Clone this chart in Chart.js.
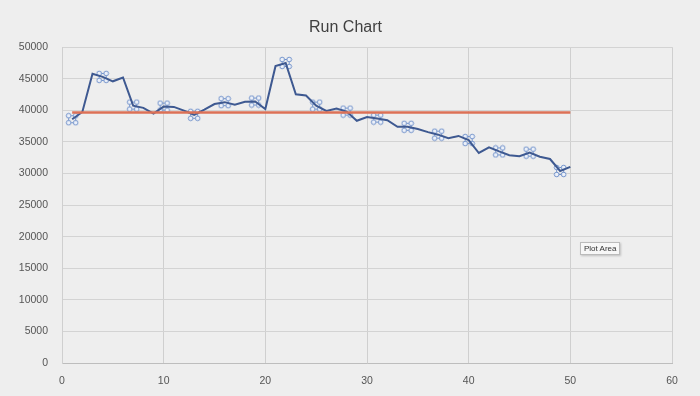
<!DOCTYPE html>
<html>
<head>
<meta charset="utf-8">
<script src="https://cdn.jsdelivr.net/npm/chart.js@4"></script>
<style>
  html, body { margin: 0; padding: 0; background: #eeeeee; }
  #wrap { position: relative; width: 700px; height: 396px; }
  #plotTag {
    position: absolute; left: 580px; top: 242px;
    font: 8px "Liberation Sans", Arial, sans-serif; color: #333;
    background: #f7f7f7; border: 1px solid #bbb; padding: 1px 3px;
    box-shadow: 1px 1px 2px rgba(0,0,0,0.2);
  }
</style>
</head>
<body>
<div id="wrap">
  <canvas id="myChart" width="700" height="396"></canvas>
  <div id="plotTag">Plot Area</div>
</div>
<script>
// run number (x) and measured value (y)
var runs = [1, 2, 3, 4, 5, 6, 7, 8, 9, 10,
  11, 12, 13, 14, 15, 16, 17, 18, 19, 20,
  21, 22, 23, 24, 25, 26, 27, 28, 29, 30,
  31, 32, 33, 34, 35, 36, 37, 38, 39, 40,
  41, 42, 43, 44, 45, 46, 47, 48, 49, 50];
var values = [38600, 39750, 45800, 45300, 44600, 45200, 40750, 40400, 39500, 40600,
  40550, 39950, 39300, 40100, 41000, 41300, 40900, 41350, 41400, 40200,
  47000, 47500, 42550, 42350, 40750, 39900, 40300, 39800, 38350, 38950,
  38700, 38450, 37400, 37400, 37050, 36550, 36150, 35600, 35950, 35300,
  33250, 34150, 33500, 32900, 32750, 33300, 32650, 32300, 30400, 31050];
var median = 39650;
var xTicks = [0, 10, 20, 30, 40, 50, 60];
var yTicks = [0, 5000, 10000, 15000, 20000, 25000, 30000, 35000, 40000, 45000, 50000];

var barChart = document.getElementById("myChart").getContext("2d");

// little "selected label" handle marker like the screenshot
function makeHandle() {
  var c = document.createElement("canvas");
  c.width = 14; c.height = 14;
  var g = c.getContext("2d");
  g.strokeStyle = "#6d8fc9";
  g.lineWidth = 1;
  g.strokeRect(3.5, 3.5, 7, 7);
  [[3.5, 3.5], [10.5, 3.5], [3.5, 10.5], [10.5, 10.5]].forEach(function(p) {
    g.beginPath();
    g.arc(p[0], p[1], 2.3, 0, Math.PI * 2);
    g.fillStyle = "#eef2fa";
    g.fill();
    g.stroke();
  });
  return c;
}
var handle = makeHandle();

var lineData = runs.map(function(r, i) { return { x: r, y: values[i] }; });
var markData = lineData.filter(function(p, i) { return i % 3 === 0; });
var medData = [{ x: runs[0], y: median }, { x: runs[runs.length - 1], y: median }];

var tickFont = { family: "'Liberation Sans', Arial, sans-serif", size: 10.5 };

var chart = new Chart(barChart, {
  type: "scatter",
  data: {
    datasets: [
      {
        label: "Median",
        data: medData,
        showLine: true,
        borderColor: "#dc7156",
        borderWidth: 2.5,
        pointRadius: 0
      },
      {
        label: "Value",
        data: lineData,
        showLine: true,
        borderColor: "#3e5991",
        borderWidth: 2,
        pointRadius: 0,
        tension: 0
      },
      {
        label: "Labels",
        data: markData,
        showLine: false,
        pointStyle: handle,
        pointRadius: 7
      }
    ]
  },
  options: {
    responsive: false,
    animation: false,
    layout: { padding: { left: 19, right: 28, top: 0, bottom: 0 } },
    plugins: {
      legend: { display: false },
      tooltip: { enabled: false },
      title: {
        display: true,
        text: "Run Chart",
        color: "#404040",
        font: { family: "'Liberation Sans', Arial, sans-serif", size: 16, weight: "normal" },
        padding: { top: 18, bottom: 10 }
      }
    },
    scales: {
      x: {
        type: "linear",
        min: 0,
        max: 60,
        afterBuildTicks: function(ax) { ax.ticks = xTicks.map(function(v) { return { value: v }; }); },
        afterFit: function(ax) { ax.height = 33; },
        grid: { color: "#cfcfcf", drawTicks: false },
        border: { color: "#bdbdbd" },
        ticks: { color: "#555", padding: 12, font: tickFont, callback: function(v) { return String(v); } }
      },
      y: {
        min: 0,
        max: 50000,
        afterBuildTicks: function(ax) { ax.ticks = yTicks.map(function(v) { return { value: v }; }); },
        afterFit: function(ax) { ax.width = 43; },
        grid: { color: "#d3d3d3", drawTicks: false },
        border: { color: "#cfcfcf" },
        ticks: { color: "#555", padding: 14, font: tickFont, callback: function(v) { return String(v); } }
      }
    }
  }
});
</script>
</body>
</html>
